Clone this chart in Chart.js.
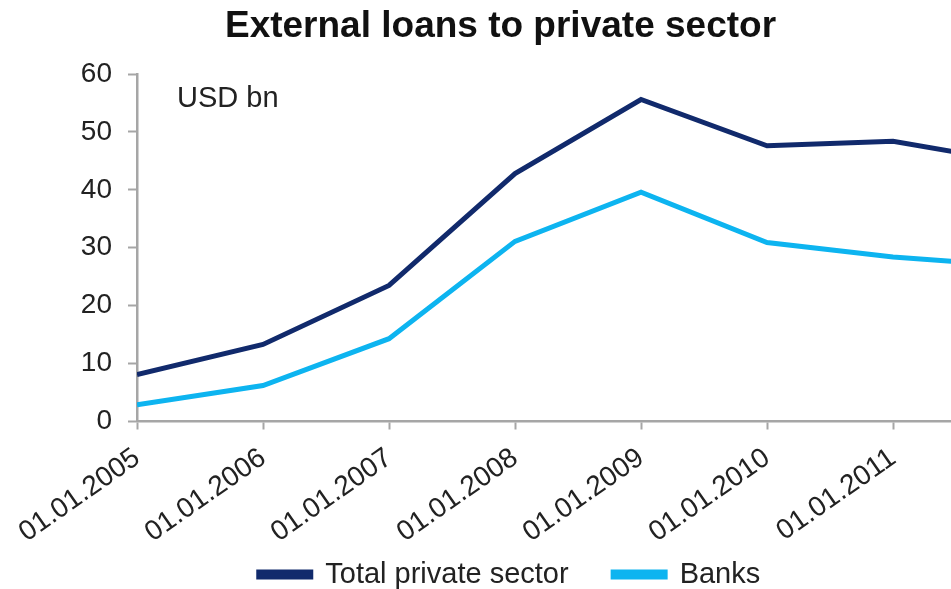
<!DOCTYPE html>
<html>
<head>
<meta charset="utf-8">
<script src="https://cdn.jsdelivr.net/npm/chart.js@4"></script>
<style>
  html, body { margin: 0; padding: 0; background: #fff; }
  #wrap { width: 951px; height: 589px; }
</style>
</head>
<body>
<div id="wrap"><canvas id="chart" width="951" height="589"></canvas></div>
<script>
// years as decimal positions, last one is the mid-2011 value cut off at the edge
const years = [2005, 2006, 2007, 2008, 2009, 2010, 2011, 2011.5];
const totalPrivate = [8.1, 13.3, 23.5, 42.8, 55.6, 47.6, 48.4, 46.5];
const banks = [2.9, 6.2, 14.3, 31.1, 39.6, 30.9, 28.4, 27.6];
const tickYears = [2005, 2006, 2007, 2008, 2009, 2010, 2011];
const tickLabels = ['01.01.2005', '01.01.2006', '01.01.2007', '01.01.2008', '01.01.2009', '01.01.2010', '01.01.2011'];

const axisGrey = '#a6a6a6';
const textCol = '#222';
const fontFam = '"Liberation Sans", Arial, sans-serif';

const unitLabel = {
    id: 'unitLabel',
    afterLayout(chart) {
        // title sits a bit left of the legend centre in the original
        chart.titleBlock.left -= 18;
        // let the rotated date labels run down into the legend band
        chart.scales.x.bottom = chart.height;
    },
    afterDraw(chart) {
        const ctx = chart.ctx;
        ctx.save();
        ctx.font = '29px ' + fontFam;
        ctx.fillStyle = textCol;
        ctx.textBaseline = 'alphabetic';
        ctx.fillText('USD bn', 177, 107);
        ctx.restore();
    }
};

new Chart(document.getElementById('chart'), {
    type: 'line',
    data: {
        datasets: [
            {
                label: 'Total private sector',
                data: years.map((y, i) => ({x: y, y: totalPrivate[i]})),
                borderColor: '#112a6c',
                backgroundColor: '#112a6c',
                borderWidth: 5,
                pointRadius: 0,
                tension: 0
            },
            {
                label: 'Banks',
                data: years.map((y, i) => ({x: y, y: banks[i]})),
                borderColor: '#0db4f0',
                backgroundColor: '#0db4f0',
                borderWidth: 5,
                pointRadius: 0,
                tension: 0
            }
        ]
    },
    options: {
        responsive: false,
        animation: false,
        layout: {padding: {left: 68, right: 0, top: 0, bottom: -10}},
        plugins: {
            title: {
                display: true,
                text: 'External loans to private sector',
                color: '#111',
                font: {family: fontFam, size: 37, weight: 'bold'},
                padding: {top: 5, bottom: 24.6}
            },
            legend: {
                position: 'bottom',
                labels: {
                    color: textCol,
                    font: {family: fontFam, size: 29},
                    boxWidth: 52,
                    boxHeight: 5,
                    padding: 44.5
                }
            },
            tooltip: {enabled: false}
        },
        scales: {
            x: {
                type: 'linear',
                min: 2005,
                max: 2011.46,
                afterBuildTicks: (s) => { s.ticks = tickYears.map(v => ({value: v})); },
                afterFit: (s) => { s.paddingLeft = 0; s.paddingRight = 0; s.height = 94; },
                ticks: {
                    color: textCol,
                    font: {family: fontFam, size: 28},
                    minRotation: 35,
                    maxRotation: 35,
                    padding: 12,
                    callback: (v) => tickLabels[tickYears.indexOf(v)]
                },
                grid: {drawOnChartArea: false, color: axisGrey, tickLength: 8, tickWidth: 2},
                border: {color: axisGrey, width: 2.5}
            },
            y: {
                min: 0,
                max: 60,
                afterFit: (s) => { s.width = 69; },
                ticks: {
                    stepSize: 10,
                    color: textCol,
                    font: {family: fontFam, size: 28},
                    padding: 16
                },
                grid: {drawOnChartArea: false, color: axisGrey, tickLength: 9, tickWidth: 2},
                border: {color: axisGrey, width: 2.5}
            }
        }
    },
    plugins: [unitLabel]
});
</script>
</body>
</html>
